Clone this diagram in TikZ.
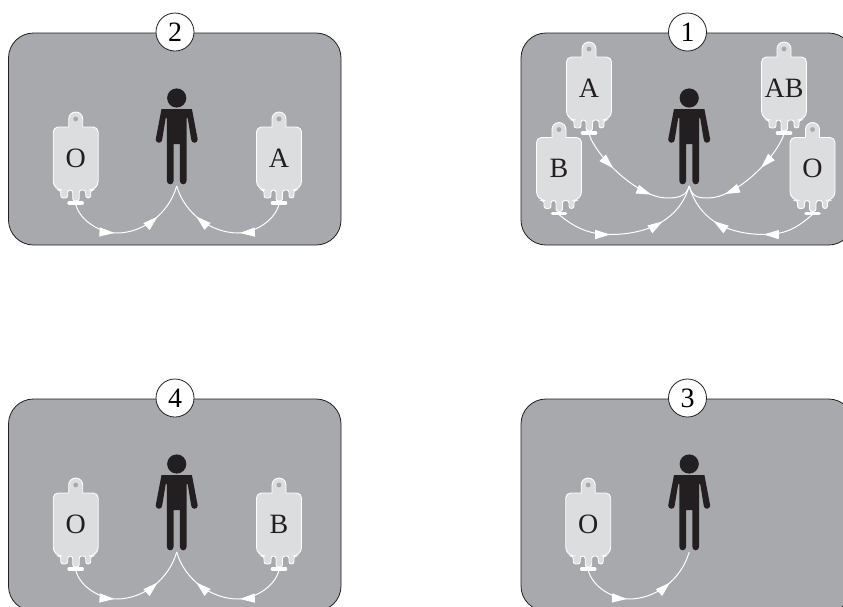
\documentclass[tikz,border=0pt]{standalone}
\usepackage{fontspec}
\setmainfont{Liberation Serif}
\usetikzlibrary{arrows.meta,decorations.markings}
\definecolor{panelgray}{HTML}{A7A9AC}
\definecolor{baggray}{HTML}{DCDDDE}
\definecolor{inkblack}{HTML}{231F20}
\tikzset{
    panel/.style={draw=inkblack, fill=panelgray, line width=0.8pt, rounded corners=25pt},
    badge/.style={circle, draw=inkblack, fill=white, line width=0.8pt, minimum size=38pt, inner sep=0pt, font=\fontsize{28}{28}\selectfont},
    bagbody/.style={draw=white, fill=baggray, line width=0.9pt},
    bagtext/.style={inner sep=0pt, text=inkblack, font=\fontsize{28}{28}\selectfont},
    tube/.style={draw=white, line width=1pt, postaction={decorate},
        decoration={markings,
            mark=at position #1 with {\arrow{Triangle[length=15pt,width=9pt,white]}},
            mark=at position #1+0.35 with {\arrow{Triangle[length=15pt,width=9pt,white]}}}},
    tube/.default=0.38
}
% blood bag, origin at the hanger hole
\newcommand{\bloodbag}[4]{
    \begin{scope}[shift={(#2,#3)}]
        \draw[bagbody] (-7,8) -- (-7,0) arc (180:360:7) -- (7,8) [rounded corners=5pt] -- (22.5,8)
            [rounded corners=9pt] -- (22.5,71) [rounded corners=2.5pt] -- (15,71) -- (15,79)
            -- (10,79) -- (10,71) -- (3.5,71) -- (3.5,82) -- (-3,82) -- (-3,71) -- (-8,71) -- (-8,79)
            -- (-15,79) -- (-15,71) [rounded corners=9pt] -- (-22.5,71) [rounded corners=5pt] -- (-22.5,8) [sharp corners] -- cycle;
        \fill[panelgray] (0,0) circle (2.4);
        \draw[white, line width=3.6pt, line cap=round] (-6.5,84) -- (6.5,84);
        \coordinate (#1-out) at (0,85);
        \node[bagtext] (#1-label) at (0,39) {#4};
    \end{scope}
}
% person, origin at the centre of the head
\newcommand{\person}[3]{
    \begin{scope}[shift={(#2,#3)}]
        \fill[inkblack] (0,0) circle (9.6);
        \fill[inkblack] (-15.2,11) -- (15.2,11) -- (21,41.5) arc (0:180:3.25) -- (11,20) -- (9.8,20) -- (9.8,83)
            arc (0:180:3.3) -- (3.2,46) -- (-3.2,46) -- (-3.2,83) arc (0:180:3.3) -- (-9.8,20) -- (-11,20)
            -- (-14.5,41.5) arc (0:180:3.25) -- cycle;
        \coordinate (#1-feet) at (0,88);
    \end{scope}
}
\begin{document}
\begin{tikzpicture}[x=1pt, y=-1pt]
    \useasboundingbox (0,0) rectangle (843,606);
    \clip (0,0) rectangle (843,606);
    % panels with their numbers
    \foreach \name/\px/\py/\num in {two/0/0/2, one/512.5/0/1, four/0/366/4, three/512.5/366/3} {
        \draw[panel] (\px+8.5,\py+33) rectangle (\px+341,\py+245);
        \node[badge] (\name-num) at (\px+175,\py+32) {\num};
        \person{\name-man}{\px+176.7}{\py+98}
    }

    % panel 2
    \bloodbag{twoO}{75.7}{119}{O}
    \bloodbag{twoA}{279}{119}{A}
    \draw[tube] (twoO-out) .. controls +(4,17) and +(-16,0) .. ++(41,29) .. controls +(26,0) and +(-8,28) .. (two-man-feet);
    \draw[tube] (twoA-out) .. controls +(-4,17) and +(16,0) .. ++(-41,29) .. controls +(-26,0) and +(8,28) .. (two-man-feet);

    % panel 1
    \bloodbag{oneA}{589}{49}{A}
    \bloodbag{oneAB}{784}{49}{AB}
    \bloodbag{oneB}{559}{129.5}{B}
    \bloodbag{oneO}{812.5}{129.5}{O}
    \draw[tube=0.32] (oneA-out) .. controls +(8,24) and +(-28,0) .. (667,198) .. controls +(12,0) and +(-3,10) .. (one-man-feet);
    \draw[tube=0.32] (oneAB-out) .. controls +(-8,24) and +(28,0) .. (708,198) .. controls +(-12,0) and +(3,10) .. (one-man-feet);
    \draw[tube=0.36] (oneB-out) .. controls +(14,12) and +(-22,0) .. (610,234.5) .. controls +(40,0) and +(-9,32) .. (one-man-feet);
    \draw[tube=0.36] (oneO-out) .. controls +(-14,12) and +(22,0) .. (765,234.5) .. controls +(-40,0) and +(9,32) .. (one-man-feet);

    % panel 4
    \bloodbag{fourO}{75.7}{485}{O}
    \bloodbag{fourB}{279}{485}{B}
    \draw[tube] (fourO-out) .. controls +(4,17) and +(-16,0) .. ++(41,29) .. controls +(26,0) and +(-8,28) .. (four-man-feet);
    \draw[tube] (fourB-out) .. controls +(-4,17) and +(16,0) .. ++(-41,29) .. controls +(-26,0) and +(8,28) .. (four-man-feet);

    % panel 3
    \bloodbag{threeO}{588.2}{485}{O}
    \draw[tube] (threeO-out) .. controls +(4,17) and +(-16,0) .. ++(41,29) .. controls +(26,0) and +(-8,28) .. (three-man-feet);
\end{tikzpicture}
\end{document}
